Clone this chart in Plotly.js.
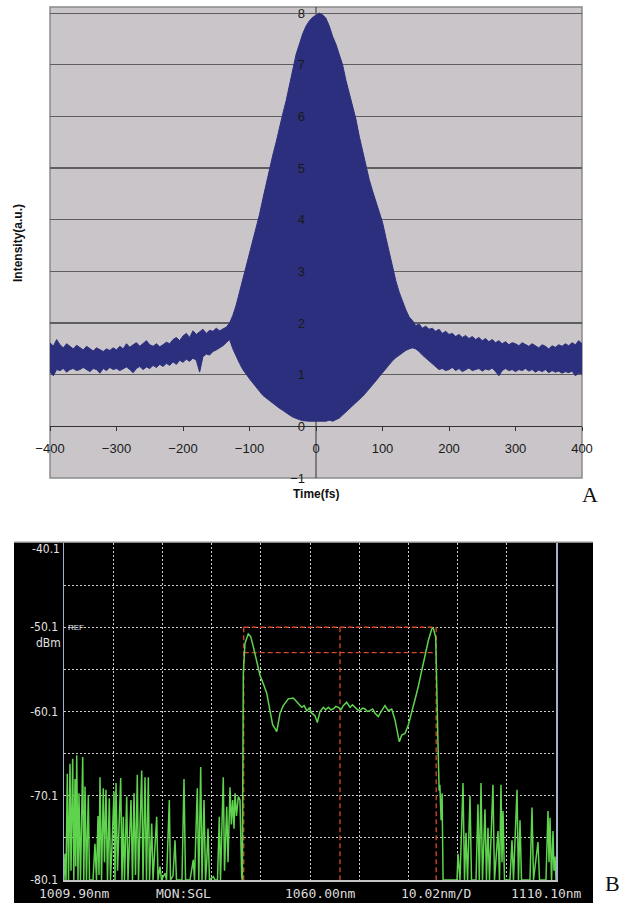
<!DOCTYPE html>
<html>
<head>
<meta charset="utf-8">
<script src="https://cdn.plot.ly/plotly-3.0.1.min.js"></script>
<style>
html,body{margin:0;padding:0;background:#ffffff;}
#chart{width:631px;height:908px;}
</style>
</head>
<body>
<div id="chart"></div>
<script>
// ---------- Panel A : interferometric autocorrelation (envelopes) ----------
const timeFs = [
-400,-395,-390,-385,-380,-375,-370,-365,-360,-355,
-350,-345,-340,-335,-330,-325,-320,-315,-310,-305,
-300,-295,-290,-285,-280,-275,-270,-265,-260,-255,
-250,-245,-240,-235,-230,-225,-220,-215,-210,-205,
-200,-195,-190,-185,-180,-175,-170,-165,-160,-155,
-150,-145,-140,-135,-130,-125,-120,-115,-110,-105,
-100,-95,-90,-85,-80,-75,-70,-65,-60,-55,
-50,-45,-40,-35,-30,-25,-20,-15,-10,-5,
0,5,10,15,20,25,30,35,40,45,
50,55,60,65,70,75,80,85,90,95,
100,105,110,115,120,125,130,135,140,145,
150,155,160,165,170,175,180,185,190,195,
200,205,210,215,220,225,230,235,240,245,
250,255,260,265,270,275,280,285,290,295,
300,305,310,315,320,325,330,335,340,345,
350,355,360,365,370,375,380,385,390,395,
400];
const upperEnv = [
1.62,1.55,1.68,1.58,1.52,1.60,1.55,1.50,1.57,1.52,
1.48,1.55,1.50,1.46,1.52,1.48,1.45,1.50,1.47,1.52,
1.48,1.55,1.50,1.60,1.53,1.58,1.62,1.55,1.60,1.66,
1.58,1.55,1.60,1.54,1.58,1.63,1.60,1.68,1.72,1.66,
1.75,1.80,1.72,1.85,1.78,1.83,1.88,1.80,1.86,1.84,
1.90,1.85,1.88,1.92,2.00,2.15,2.35,2.60,2.85,3.05,
3.30,3.55,3.85,4.10,4.40,4.70,4.95,5.25,5.50,5.80,
6.05,6.30,6.60,6.95,7.20,7.40,7.60,7.75,7.85,7.92,
7.96,8.00,7.97,7.90,7.75,7.55,7.40,7.20,7.00,6.70,
6.45,6.20,5.95,5.62,5.32,5.05,4.78,4.56,4.36,4.18,
3.95,3.66,3.36,3.07,2.82,2.60,2.42,2.26,2.12,2.05,
1.95,1.98,1.90,1.94,1.88,1.90,1.84,1.88,1.80,1.84,
1.78,1.80,1.74,1.78,1.72,1.76,1.70,1.74,1.68,1.72,
1.66,1.70,1.64,1.68,1.62,1.66,1.60,1.64,1.58,1.62,
1.60,1.56,1.62,1.58,1.55,1.60,1.56,1.52,1.58,1.55,
1.50,1.56,1.53,1.58,1.55,1.60,1.56,1.62,1.58,1.66,
1.60];
const lowerEnv = [
1.05,0.98,1.10,1.08,1.12,1.05,1.10,1.12,1.08,1.10,
1.14,1.10,1.06,1.12,1.10,1.03,1.12,1.08,1.14,1.10,
1.12,1.08,1.12,1.15,1.10,1.04,1.12,1.16,1.10,1.15,
1.12,1.18,1.14,1.20,1.16,1.22,1.18,1.25,1.20,1.28,
1.24,1.30,1.26,1.32,1.28,1.05,1.35,1.40,1.38,1.45,
1.48,1.52,1.56,1.62,1.68,1.50,1.35,1.22,1.10,1.00,
0.92,0.84,0.76,0.68,0.60,0.55,0.50,0.44,0.40,0.35,
0.31,0.26,0.22,0.18,0.15,0.13,0.11,0.10,0.10,0.10,
0.10,0.10,0.11,0.10,0.12,0.10,0.13,0.16,0.22,0.28,
0.33,0.40,0.46,0.52,0.58,0.65,0.72,0.80,0.88,0.96,
1.04,1.12,1.20,1.27,1.33,1.38,1.43,1.47,1.50,1.52,
1.50,1.45,1.38,1.32,1.26,1.20,1.15,1.10,1.12,1.08,
1.10,1.14,1.08,1.12,1.06,1.10,1.13,1.08,1.10,1.12,
1.07,1.11,1.09,1.13,1.06,0.98,1.08,1.12,1.08,1.10,
1.06,1.10,1.08,1.12,1.07,1.10,1.05,1.09,1.06,1.10,
1.04,1.08,1.05,1.07,1.03,1.06,1.04,1.07,0.98,1.03,
1.02];
const timeTicks = [-400,-300,-200,-100,0,100,200,300,400];
const intensityTicks = [-1,0,1,2,3,4,5,6,7,8];

// ---------- Panel B : optical spectrum (OSA trace) ----------
const wavelengthNm = [
1009.90,1010.10,1010.31,1010.57,1010.82,1011.12,1011.33,1011.67,1011.90,1012.14,
1012.30,1012.49,1012.75,1012.95,1013.26,1013.71,1013.93,1014.18,1014.48,1014.85,
1015.09,1015.81,1016.21,1016.52,1016.82,1017.03,1017.23,1017.54,1017.90,1018.15,
1018.45,1018.76,1019.13,1019.37,1019.68,1020.08,1020.29,1020.49,1020.80,1021.10,
1021.45,1021.71,1021.98,1022.22,1022.67,1022.93,1023.55,1023.85,1024.16,1024.46,
1024.83,1025.07,1025.38,1025.72,1025.99,1026.40,1026.70,1027.07,1027.31,1027.76,
1028.03,1028.78,1029.05,1029.45,1029.76,1030.47,1030.78,1031.35,1031.59,1032.10,
1032.51,1032.81,1033.93,1034.34,1034.65,1035.56,1036.23,1036.48,1037.05,1037.35,
1037.74,1038.01,1038.41,1038.72,1038.96,1039.23,1039.53,1040.31,1040.65,1041.16,
1041.53,1041.77,1042.34,1042.59,1043.04,1043.30,1043.71,1043.98,1044.26,1044.52,
1044.73,1045.03,1045.40,1045.74,1046.09,1046.21,
1046.42,1046.76,1047.43,1047.92,1048.45,1049.15,1049.82,1050.49,1051.18,1051.85,
1052.40,1052.87,1053.22,1053.54,1053.89,1054.56,1055.58,1056.60,1057.29,1058.31,
1058.80,1059.33,1059.85,1060.35,1061.02,1061.49,1062.04,1062.40,1062.71,1063.20,
1063.73,1064.25,1064.75,1065.25,1065.76,1066.30,1066.78,1067.47,1068.15,1068.65,
1069.17,1069.70,1070.18,1070.70,1071.20,1071.70,1072.22,1072.75,1073.24,1073.91,
1074.60,1075.27,1075.95,1076.64,1077.31,1077.78,1078.19,1078.68,1079.35,1080.02,
1080.71,1081.38,1082.06,1082.75,1083.42,1084.09,1084.79,1085.11,1085.60,1085.80,
1086.05,1086.30,1086.45,1086.70,1086.90,1087.10,
1089.94,1090.14,1090.55,1091.16,1091.47,1091.77,1092.08,1092.59,1092.89,1093.81,
1094.21,1094.48,1094.83,1095.13,1095.64,1095.94,1096.25,1096.55,1097.26,1097.57,
1098.29,1098.59,1098.90,1099.10,1099.31,1099.61,1100.73,1101.14,1101.44,1102.16,
1102.46,1102.77,1103.07,1104.80,1105.21,1105.52,1106.43,1106.74,1108.06,1108.47,
1108.68,1108.88,1109.19,1109.49,1109.69,1109.90,1110.10];
const powerDbm = [
-80.1,-77.0,-80.1,-67.5,-80.1,-66.3,-79.0,-65.7,-80.1,-68.1,
-78.5,-65.3,-80.1,-69.8,-80.1,-65.5,-80.1,-69.0,-80.1,-70.0,
-80.1,-80.1,-75.8,-80.1,-72.5,-79.5,-67.9,-80.1,-69.2,-78.0,
-69.4,-80.1,-70.4,-80.1,-76.0,-69.6,-80.1,-68.6,-79.0,-74.0,
-68.0,-80.1,-72.6,-80.1,-70.2,-80.1,-70.6,-80.1,-69.8,-79.5,
-67.6,-80.1,-74.5,-67.1,-80.1,-67.9,-80.1,-67.9,-80.1,-73.4,
-80.1,-72.6,-80.1,-78.5,-80.1,-79.3,-80.1,-70.6,-80.1,-79.6,
-75.4,-80.1,-80.1,-68.1,-80.1,-80.1,-77.7,-80.1,-69.2,-80.1,
-66.7,-80.1,-70.6,-80.1,-78.1,-74.0,-80.1,-79.7,-80.1,-80.1,
-72.6,-80.1,-67.9,-79.0,-71.4,-78.0,-69.1,-73.5,-70.6,-74.0,
-69.8,-72.5,-70.2,-70.6,-79.7,-80.1,
-55.6,-52.0,-50.9,-51.2,-52.4,-54.0,-55.8,-56.8,-57.9,-60.0,
-61.7,-62.1,-62.5,-61.5,-60.3,-59.4,-58.6,-58.5,-58.9,-59.6,
-59.4,-60.0,-59.7,-60.3,-60.6,-61.4,-60.1,-59.8,-59.6,-59.9,
-59.6,-59.9,-59.8,-59.5,-59.6,-59.9,-59.4,-59.0,-59.6,-59.3,
-59.6,-59.9,-60.0,-59.7,-59.8,-60.1,-60.0,-59.8,-60.3,-60.7,
-60.0,-59.4,-60.0,-59.8,-61.1,-62.5,-63.7,-62.9,-62.7,-61.7,
-60.3,-58.7,-57.1,-55.2,-53.2,-51.7,-50.3,-50.2,-51.3,-55.4,
-63.5,-69.5,-68.8,-73.0,-69.8,-80.1,
-80.1,-77.0,-80.1,-68.6,-80.1,-74.5,-80.1,-70.1,-80.1,-80.1,
-71.1,-80.1,-68.6,-80.1,-71.7,-80.1,-73.9,-80.1,-68.8,-80.1,
-74.3,-80.1,-68.8,-78.0,-71.9,-80.1,-80.1,-75.4,-80.1,-69.4,
-80.1,-73.0,-80.1,-80.1,-71.5,-80.1,-75.6,-80.1,-80.1,-71.9,
-78.0,-72.7,-80.1,-74.3,-79.0,-77.3,-80.1];
const wlGrid = [1019.92,1029.94,1039.96,1049.98,1060.00,1070.02,1080.04,1090.06,1100.08];
const dbmGrid = [-80.1,-75.1,-70.1,-65.1,-60.1,-55.1,-50.1,-45.1,-40.1];
const dbmTickText = ['-80.1','','-70.1','','-60.1','','-50.1','',''];
const markerWl = [1046.5, 1066.1, 1085.7];   // left, centre, right markers
const markerLevels = [-50.1, -53.1];          // peak level and -3 dB level
const osaFooter = ['1009.90nm','MON:SGL','1060.00nm','10.02nm/D','1110.10nm'];

// ---------- layout helpers (pixel -> paper fraction) ----------
const W = 631, H = 908;
const fx = px => px / W;
const fy = py => 1 - py / H;

const yDomA = [fy(478), fy(7)];
const yRangeA = [-1, 8.12];
const xAxisPosA = yDomA[0] + (0 - yRangeA[0]) / (yRangeA[1] - yRangeA[0]) * (yDomA[1] - yDomA[0]);

const navy = '#2c2f7d';
const sansFont = 'Liberation Sans, Arial, sans-serif';
const osaMono = 'DejaVu Sans Mono, Liberation Mono, monospace';
const osaNarrow = 'DejaVu Sans Condensed, Liberation Sans Narrow, Liberation Sans, sans-serif';

// marker line trace (red dashed) built from the marker arrays
const mkX = [], mkY = [];
markerWl.forEach(w => { mkX.push(w, w, null); mkY.push(markerLevels[0], -80.1, null); });
markerLevels.forEach(l => { mkX.push(markerWl[0], markerWl[2], null); mkY.push(l, l, null); });

const traces = [
  { x: timeFs, y: lowerEnv, xaxis: 'x', yaxis: 'y', type: 'scatter', mode: 'lines',
    line: { color: navy, width: 1 }, hoverinfo: 'skip' },
  { x: timeFs, y: upperEnv, xaxis: 'x', yaxis: 'y', type: 'scatter', mode: 'lines',
    line: { color: navy, width: 1 }, fill: 'tonexty', fillcolor: navy, hoverinfo: 'skip' },
  { x: mkX, y: mkY, xaxis: 'x2', yaxis: 'y2', type: 'scatter', mode: 'lines',
    line: { color: '#d8462c', width: 1.3, dash: '5px,3px' }, connectgaps: false, hoverinfo: 'skip' },
  { x: wavelengthNm, y: powerDbm, xaxis: 'x2', yaxis: 'y2', type: 'scatter', mode: 'lines',
    line: { color: '#5fd34e', width: 1.5 }, hoverinfo: 'skip' }
];

const ann = (x, y, text, font, extra) => Object.assign({
  xref: 'paper', yref: 'paper', x: fx(x), y: fy(y), text: text, showarrow: false,
  xanchor: 'center', yanchor: 'middle', font: font
}, extra || {});

const bottomLabelX = [37, 154, 283, 399, 509];
const osaText = { family: osaNarrow, size: 12, color: '#e2e2e2' };
const annotations = [
  ann(316, 494, '<b>Time(fs)</b>', { family: sansFont, size: 12, color: '#111' }),
  ann(18, 243, '<b>Intensity(a.u.)</b>', { family: sansFont, size: 12, color: '#111' }, { textangle: -90 }),
  ann(590, 494, 'A', { family: 'Liberation Serif, Times New Roman, serif', size: 22, color: '#111' }),
  ann(612, 883, 'B', { family: 'Liberation Serif, Times New Roman, serif', size: 22, color: '#111' }),
  ann(62, 549, '-40.1', osaText, { xanchor: 'right' }),
  ann(63, 643, 'dBm', osaText, { xanchor: 'right' }),
  ann(66, 627, 'REF', { family: sansFont, size: 8, color: '#e2e2e2' }, { xanchor: 'left' })
];
osaFooter.forEach((t, i) => annotations.push(
  ann(bottomLabelX[i], 893, t, { family: osaMono, size: 13, color: '#dcdcdc' }, { xanchor: 'left' })
));

const layout = {
  width: W, height: H,
  margin: { l: 0, r: 0, t: 0, b: 0 },
  paper_bgcolor: '#ffffff', plot_bgcolor: 'rgba(0,0,0,0)',
  showlegend: false,
  xaxis: {
    domain: [fx(50), fx(582)], range: [-400, 400], anchor: 'free', position: xAxisPosA,
    tickvals: timeTicks, ticks: 'outside', ticklen: 4, tickcolor: '#333',
    showline: true, linecolor: '#333', linewidth: 1, showgrid: false, zeroline: false,
    tickfont: { family: sansFont, size: 13, color: '#1a1a1a' }, ticklabelstandoff: 6, fixedrange: true
  },
  yaxis: {
    domain: yDomA, range: yRangeA, anchor: 'free', position: fx(316),
    tickvals: intensityTicks, ticks: '', showline: false,
    showgrid: true, gridcolor: '#5e5e5e', gridwidth: 1.3, zeroline: false,
    tickfont: { family: sansFont, size: 13, color: '#1a1a1a' }, ticklabelstandoff: 11, fixedrange: true
  },
  xaxis2: {
    domain: [fx(64), fx(556)], range: [1009.9, 1110.1], anchor: 'y2',
    tickvals: wlGrid, showticklabels: false, ticks: '',
    showgrid: true, gridcolor: '#d0d0d0', griddash: '2px,2px', gridwidth: 1,
    showline: true, linecolor: '#c4c4c4', linewidth: 2, zeroline: false, layer: 'below traces', fixedrange: true
  },
  yaxis2: {
    domain: [fy(880), fy(543)], range: [-80.1, -40.1], anchor: 'x2',
    tickvals: dbmGrid, ticktext: dbmTickText, ticks: '',
    showgrid: true, gridcolor: '#d0d0d0', griddash: '2px,2px', gridwidth: 1,
    showline: true, mirror: true, linecolor: '#a3b2cc', linewidth: 1.5, zeroline: false,
    tickfont: osaText, ticklabelstandoff: 2,
    layer: 'below traces', fixedrange: true
  },
  shapes: [
    { type: 'rect', xref: 'paper', yref: 'paper', x0: fx(50), x1: fx(582), y0: fy(478), y1: fy(7),
      fillcolor: '#c9c5c9', line: { color: '#8a8a8a', width: 1.5 }, layer: 'below' },
    // y axis line of panel A at t = 0 (drawn under the trace, as in the reference)
    { type: 'line', xref: 'x', yref: 'y domain', x0: 0, x1: 0, y0: 0, y1: 1,
      line: { color: '#333', width: 1 }, layer: 'below' },
    { type: 'rect', xref: 'paper', yref: 'paper', x0: fx(14), x1: fx(593), y0: fy(903), y1: fy(542),
      fillcolor: '#000000', line: { width: 0 }, layer: 'below' },
    { type: 'line', xref: 'paper', yref: 'paper', x0: fx(14), x1: fx(593), y0: fy(542), y1: fy(542),
      line: { color: '#b5b5b5', width: 1.5 }, layer: 'below' }
  ],
  annotations: annotations
};

Plotly.newPlot('chart', traces, layout, { displayModeBar: false, staticPlot: true });
</script>
</body>
</html>
